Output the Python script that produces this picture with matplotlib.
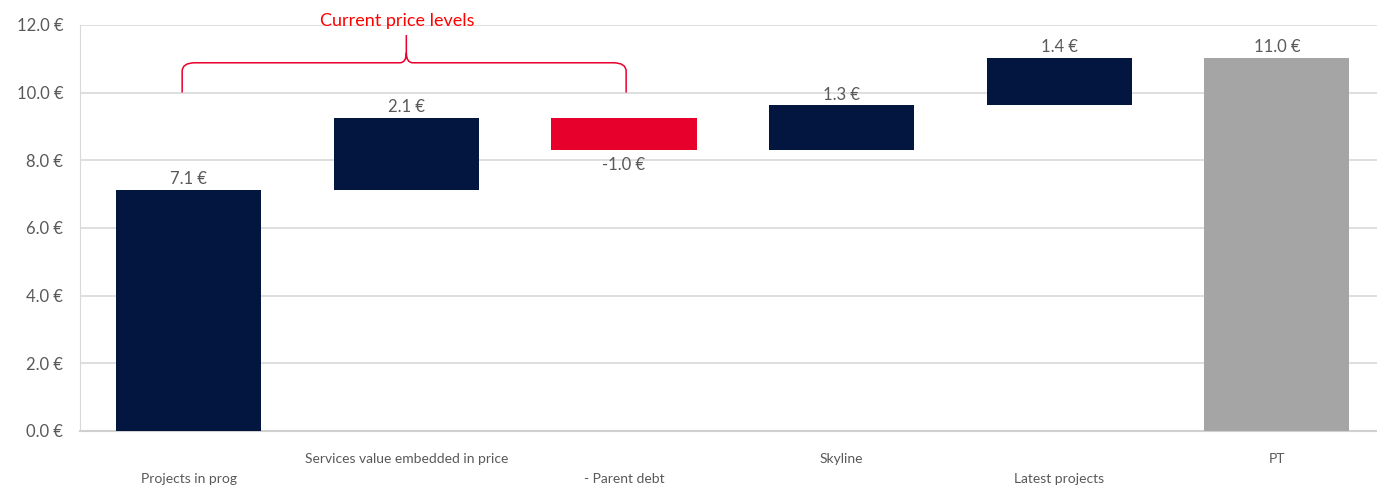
import numpy as np
import matplotlib
matplotlib.use("Agg")
import matplotlib.pyplot as plt
from matplotlib.path import Path
from matplotlib.patches import PathPatch

categories = ["Projects in prog", "Services value embedded in price", "- Parent debt",
              "Skyline", "Latest projects", "PT"]
steps = [7.12, 2.13, -0.96, 1.33, 1.41]
total = 11.03
yticks = [0, 2, 4, 6, 8, 10, 12]

NAVY = "#03163f"
RED = "#e8002d"
GREY = "#a5a5a5"
TXT = "#595959"

plt.rcParams["font.family"] = ["Lato", "DejaVu Sans"]

fig = plt.figure(figsize=(13.77, 4.88), dpi=100)
ax = fig.add_axes([0.058, 0.117, 0.942, 0.832])

x = np.arange(len(categories))
ends = np.cumsum(steps)
starts = ends - np.array(steps)
bottoms = list(np.minimum(starts, ends)) + [0]
heights = list(np.abs(steps)) + [total]
colors = [NAVY if s >= 0 else RED for s in steps] + [GREY]
values = list(steps) + [total]
ax.bar(x, heights, bottom=bottoms, width=0.667, color=colors, zorder=3)

for xi, b, h, v in zip(x, bottoms, heights, values):
    if v >= 0:
        ax.text(xi, b + h + 0.08, f"{v:.1f} €", ha="center", va="bottom", fontsize=12, color=TXT)
    else:
        ax.text(xi, b - 0.2, f"{v:.1f} €", ha="center", va="top", fontsize=12, color=TXT)

ax.set_xlim(-0.5, 5.46)
ax.set_ylim(0, 12)
ax.set_yticks(yticks)
ax.set_yticklabels([f"{t:.1f} €" for t in yticks], fontsize=12, color=TXT)
ax.set_xticks(x)
ax.set_xticklabels(categories, fontsize=10, color=TXT)
for i, tick in enumerate(ax.xaxis.get_major_ticks()):
    tick.set_pad(30 if i % 2 == 0 else 16)
ax.tick_params(length=0)
ax.tick_params(axis="y", pad=12)
ax.grid(axis="y", color="#d9d9d9", lw=1.2, zorder=0)
for s in ["top", "right"]:
    ax.spines[s].set_visible(False)
ax.spines["left"].set_color("#d9d9d9")
ax.spines["bottom"].set_color("#d0d0d0")
ax.spines["bottom"].set_linewidth(1.5)

# brace over the first three bars
x0, xm, x1 = -0.03, 1.0, 2.01
yb, yh, yt = 10.0, 10.88, 11.7
verts = [(x0, yb), (x0, yh - 0.25), (x0, yh), (x0 + 0.06, yh),
         (xm - 0.03, yh), (xm, yh), (xm, yh + 0.3), (xm, yt),
         (xm, yh + 0.3), (xm, yh), (xm + 0.03, yh),
         (x1 - 0.06, yh), (x1, yh), (x1, yh - 0.25), (x1, yb)]
codes = [Path.MOVETO, Path.LINETO, Path.CURVE3, Path.CURVE3,
         Path.LINETO, Path.CURVE3, Path.CURVE3, Path.LINETO,
         Path.MOVETO, Path.CURVE3, Path.CURVE3,
         Path.LINETO, Path.CURVE3, Path.CURVE3, Path.LINETO]
ax.add_patch(PathPatch(Path(verts, codes), fill=False, edgecolor=RED, lw=1.1,
                       clip_on=False, zorder=4))
ax.text(0.96, 12.12, "Current price levels", ha="center", va="center",
        fontsize=13, color="#ff0000", clip_on=False)

fig.savefig("out.png", dpi=100)
